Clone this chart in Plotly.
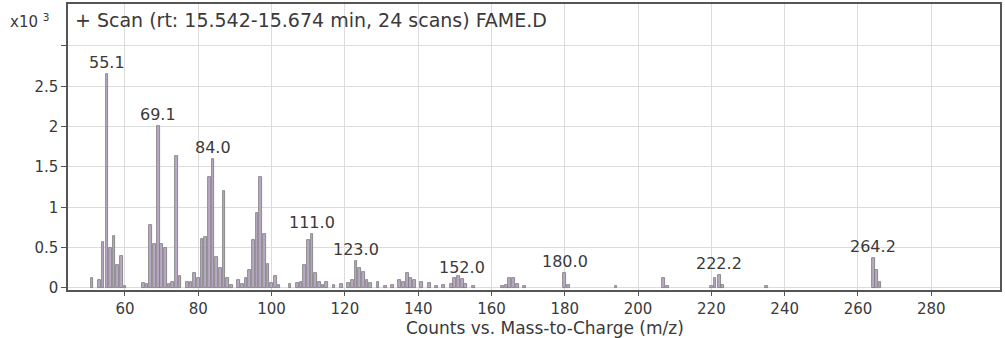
import plotly.graph_objects as go

# Mass spectrum of FAME.D, averaged scan (rt 15.542-15.674 min)
mz = [51, 53, 54, 55.1, 56, 57, 58, 59, 60, 65, 66, 67, 68, 69.1, 70, 71, 72, 73,
      74, 75, 77, 78, 79, 80, 81, 82, 83, 84.0, 85, 86, 87, 88, 89, 91, 92, 93,
      94, 95, 96, 97, 98, 99, 100, 101, 102, 105, 107, 108, 109, 110, 111.0, 112,
      113, 114, 115, 117, 119, 121, 122, 123.0, 124, 125, 126, 127, 129, 131, 133,
      135, 136, 137, 138, 139, 141, 143, 145, 147, 149, 150, 151, 152.0, 153, 155,
      163, 164, 165, 166, 167, 169, 180.0, 181, 194, 207, 208, 220, 221, 222.2,
      223, 235, 264.2, 265, 266]
counts_k = [0.12, 0.10, 0.57, 2.65, 0.50, 0.65, 0.28, 0.40, 0.03, 0.06, 0.05, 0.78,
            0.55, 2.01, 0.55, 0.50, 0.05, 0.08, 1.64, 0.15, 0.08, 0.07, 0.18, 0.12,
            0.61, 0.63, 1.37, 1.60, 0.38, 0.25, 1.20, 0.12, 0.04, 0.10, 0.05, 0.12,
            0.22, 0.60, 0.93, 1.37, 0.67, 0.30, 0.06, 0.15, 0.04, 0.05, 0.06, 0.08,
            0.28, 0.60, 0.67, 0.18, 0.07, 0.04, 0.08, 0.04, 0.05, 0.06, 0.10, 0.34,
            0.25, 0.20, 0.10, 0.06, 0.08, 0.03, 0.04, 0.10, 0.08, 0.18, 0.12, 0.10,
            0.08, 0.06, 0.03, 0.04, 0.05, 0.12, 0.15, 0.11, 0.05, 0.03, 0.03, 0.04,
            0.13, 0.13, 0.05, 0.02, 0.18, 0.04, 0.02, 0.12, 0.02, 0.03, 0.12, 0.16,
            0.04, 0.02, 0.37, 0.22, 0.08]

# Peaks annotated with their m/z
labeled_mz = [55.1, 69.1, 84.0, 111.0, 123.0, 152.0, 180.0, 222.2, 264.2]

x_ticks = [60, 80, 100, 120, 140, 160, 180, 200, 220, 240, 260, 280]
y_ticks = [0, 0.5, 1, 1.5, 2, 2.5, 3]
y_tick_text = ["0", "0.5", "1", "1.5", "2", "2.5", ""]

FONT = "DejaVu Sans, Verdana, sans-serif"
TEXT = "#3a3a3a"

fig = go.Figure()
fig.add_trace(go.Bar(
    x=mz, y=counts_k, width=0.75,
    marker=dict(color="#b9a8c3", line=dict(color="#787878", width=0.8)),
    hoverinfo="x+y",
))

for m in labeled_mz:
    v = counts_k[mz.index(m)]
    fig.add_annotation(x=m, y=v, text=f"{m:.1f}", showarrow=False,
                       yanchor="bottom", yshift=0,
                       font=dict(family=FONT, size=16, color=TEXT))

fig.add_annotation(xref="paper", yref="paper", x=5 / 932, y=(290 - 18) / 288,
                   xanchor="left", yanchor="middle", showarrow=False,
                   text="+ Scan (rt: 15.542-15.674 min, 24 scans) FAME.D",
                   font=dict(family=FONT, size=19, color=TEXT))
fig.add_annotation(xref="paper", yref="paper", x=-60 / 932, y=(290 - 19) / 288,
                   xanchor="left", yanchor="middle", showarrow=False,
                   text="x10 <sup>3</sup>",
                   font=dict(family=FONT, size=15, color=TEXT))
fig.add_annotation(xref="paper", yref="paper", x=(545 - 68) / 932, y=(290 - 328) / 288,
                   xanchor="center", yanchor="middle", showarrow=False,
                   text="Counts vs. Mass-to-Charge (m/z)",
                   font=dict(family=FONT, size=17, color=TEXT))

fig.update_layout(
    width=1005, height=338,
    margin=dict(l=68, r=5, t=2, b=48),
    paper_bgcolor="white", plot_bgcolor="white",
    showlegend=False, bargap=0,
    font=dict(family=FONT, size=15, color=TEXT),
)
fig.update_xaxes(
    range=[44.45, 298.75], tickvals=x_ticks,
    showgrid=True, gridcolor="#dcdcdc", gridwidth=1,
    showline=True, linecolor="#555555", linewidth=1.5, mirror=True,
    ticks="outside", ticklen=4, tickcolor="#555555",
    tickfont=dict(family=FONT, size=15, color=TEXT), zeroline=False,
)
fig.update_yaxes(
    range=[-0.025, 3.52], tickvals=y_ticks, ticktext=y_tick_text,
    showgrid=True, gridcolor="#dcdcdc", gridwidth=1,
    showline=True, linecolor="#555555", linewidth=1.5, mirror=True,
    ticks="outside", ticklen=5, tickcolor="#555555",
    tickfont=dict(family=FONT, size=15, color=TEXT), zeroline=False,
)

fig.write_html("out.html")
